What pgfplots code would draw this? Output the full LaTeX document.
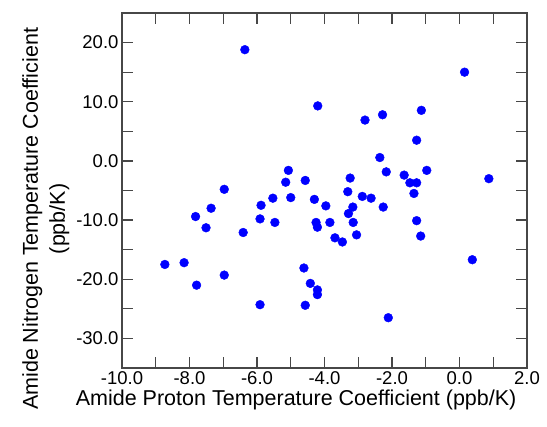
\documentclass[border=0pt]{standalone}
\usepackage{pgfplots}
\pgfplotsset{compat=1.18}
\usepackage{fontspec}
\setmainfont{Liberation Sans}
\begin{document}
\begin{tikzpicture}
\useasboundingbox (-122pt,-59pt) rectangle (425pt,368pt);
\begin{axis}[
  at={(0pt,0pt)}, anchor=south west,
  scale only axis, width=405pt, height=355pt,
  xmin=-10, xmax=2, ymin=-35, ymax=25,
  xtick={-10,-8,...,2}, minor xtick={-9,-7,...,1},
  ytick={-30,-20,...,20}, minor ytick={-25,-15,...,15},
  major tick length=11pt, minor tick length=11pt,
  tick align=inside,
  every tick/.style={color=black!72, line width=1.2pt},
  axis line style={color=black!72, line width=1.5pt},
  /pgf/number format/fixed, /pgf/number format/fixed zerofill,
  /pgf/number format/precision=1, /pgf/number format/assume math mode=true,
  scaled ticks=false,
  tick label style={font=\fontsize{18.5}{18.5}\selectfont, text=black},
  label style={font=\fontsize{21.5}{27}\selectfont, text=black},
  xlabel={Amide Proton Temperature Coefficient (ppb/K)},
  ylabel={Amide Nitrogen Temperature Coefficient\\(ppb/K)},
  ylabel style={align=center, at={(ticklabel cs:0.42)}, yshift=0pt},
  xlabel style={at={(ticklabel cs:0.43)}, yshift=2pt},
]
\addplot[only marks, mark=*, mark size=4.4pt, mark options={fill=blue, draw=blue}, color=blue] table {
x y
-6.36 18.8
-4.20 9.3
-5.07 -1.6
-5.15 -3.6
-4.57 -3.3
-6.97 -4.8
-5.53 -6.3
-5.00 -6.2
-4.30 -6.5
0.15 15.0
-2.80 6.9
-2.28 7.8
-1.13 8.55
-1.27 3.5
-2.36 0.57
-2.17 -1.85
-0.97 -1.6
-3.24 -2.9
-1.64 -2.4
-1.47 -3.7
-1.27 -3.7
0.87 -3.0
-3.31 -5.2
-1.35 -5.5
-2.88 -6.0
-2.62 -6.3
-5.88 -7.5
-7.36 -8.0
-7.82 -9.4
-5.91 -9.8
-5.47 -10.4
-4.25 -10.4
-4.21 -11.2
-7.51 -11.3
-6.41 -12.1
-8.73 -17.5
-8.16 -17.2
-6.97 -19.3
-7.79 -21.0
-4.61 -18.1
-4.42 -20.7
-4.21 -21.8
-4.21 -22.6
-5.91 -24.3
-4.57 -24.4
-3.96 -7.6
-3.16 -7.8
-2.26 -7.8
-3.29 -8.9
-3.84 -10.4
-3.15 -10.4
-1.27 -10.1
-3.05 -12.5
-1.15 -12.7
-3.69 -13.0
-3.47 -13.7
0.38 -16.7
-2.11 -26.5
};
\end{axis}
\end{tikzpicture}
\end{document}
